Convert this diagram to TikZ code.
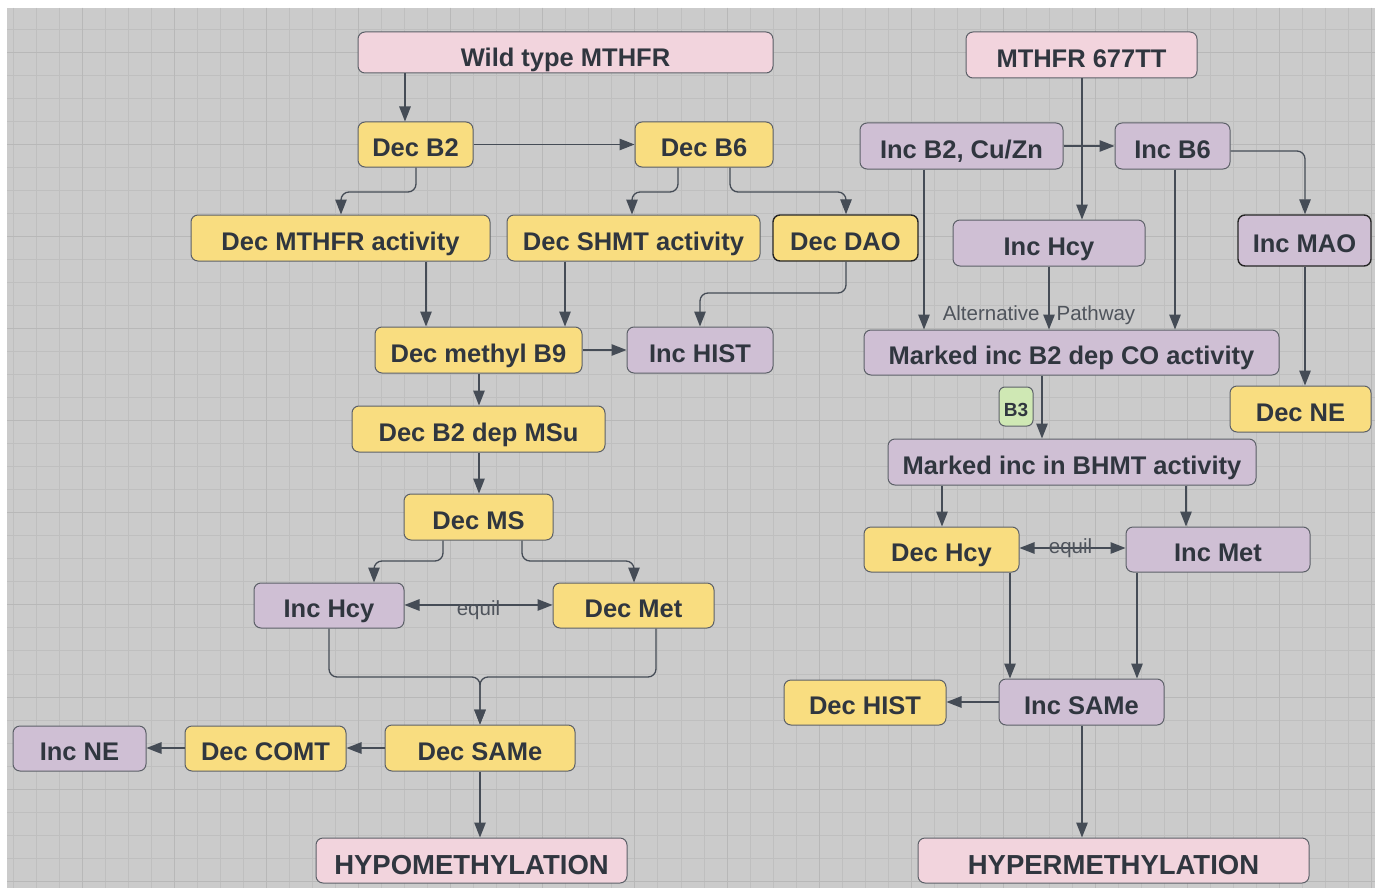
\documentclass[tikz,border=0pt]{standalone}
\usepackage{fontspec}
\setmainfont{Liberation Sans}
\usetikzlibrary{arrows.meta}

\definecolor{bg}{HTML}{CBCBCB}
\definecolor{gridln}{HTML}{BFBFBF}
\definecolor{gridmj}{HTML}{B8B8B8}
\definecolor{yel}{HTML}{F9DD80}
\definecolor{pnk}{HTML}{F2D4DD}
\definecolor{pur}{HTML}{CFBFD4}
\definecolor{grn}{HTML}{CFE8B4}
\definecolor{edgecol}{HTML}{5C6068}
\definecolor{ink}{HTML}{30363F}
\definecolor{wire}{HTML}{454C56}

% box from its corners: style, name, x1, y1, x2, y2, text
\newcommand{\flowbox}[7]{%
  \path ({(#3+#5)/2},{(#4+#6)/2}) node[#1, minimum width={(#5)-(#3)}, minimum height={(#6)-(#4)}] (#2) {#7};}

\tikzset{
  box/.style={draw=edgecol, line width=1pt, rounded corners=7pt, inner sep=0pt,
    text=ink, font=\bfseries\fontsize{25.5}{30}\selectfont,
    text height=24.5pt, text depth=0pt},
  ybox/.style={box, fill=yel},
  pbox/.style={box, fill=pur},
  kbox/.style={box, fill=pnk},
  obox/.style={box, fill=pnk, font=\bfseries\fontsize{27.5}{32}\selectfont,
    text height=27.5pt},
  gbox/.style={box, fill=grn, rounded corners=6pt, font=\bfseries\fontsize{19}{22}\selectfont,
    text height=20.5pt},
  strong/.style={draw=black!85, line width=1.4pt},
  arr/.style={draw=wire, line width=1.3pt, rounded corners=8pt,
    -{Triangle[length=15pt,width=11.5pt]}},
  biarr/.style={draw=wire, line width=1.3pt,
    {Triangle[length=15pt,width=11.5pt]}-{Triangle[length=15pt,width=11.5pt]}},
  lbl/.style={text=ink!85, font=\fontsize{20.5}{24}\selectfont, inner sep=0pt},
}

\begin{document}
\begin{tikzpicture}[x=1pt, y=-1pt]
\useasboundingbox (0,0) rectangle (1378,888);
\fill[white] (0,0) rectangle (1378,888);
\fill[bg] (7,8) rectangle (1375,888);

% background grid
\foreach \k in {0,...,59} {
  \pgfmathsetmacro\gx{13+23.03*\k}
  \draw[gridln, line width=0.7pt] (\gx,8) -- (\gx,888);
}
\foreach \k in {1,...,38} {
  \pgfmathsetmacro\gy{6+23.03*\k}
  \draw[gridln, line width=0.7pt] (7,\gy) -- (1375,\gy);
}
\foreach \k in {3,7,...,59} {
  \pgfmathsetmacro\gx{13+23.03*\k}
  \draw[gridmj, line width=0.8pt] (\gx,8) -- (\gx,888);
}
\foreach \k in {2,6,...,38} {
  \pgfmathsetmacro\gy{6+23.03*\k}
  \draw[gridmj, line width=0.8pt] (7,\gy) -- (1375,\gy);
}

% ---------- wild type branch ----------
\flowbox{kbox,text height=28.5pt}{wt}{358}{32}{773}{73}{Wild type MTHFR}
\flowbox{ybox}{db2}{358}{122}{473}{167}{Dec B2}
\flowbox{ybox}{db6}{635}{122}{773}{167}{Dec B6}
\flowbox{ybox}{dmthfr}{191}{215}{490}{261}{Dec MTHFR activity}
\flowbox{ybox}{dshmt}{507}{215}{760}{261}{Dec SHMT activity}
\flowbox{ybox,strong}{ddao}{773}{215}{918}{261}{Dec DAO}
\flowbox{ybox}{db9}{375}{327}{582}{373}{Dec methyl B9}
\flowbox{pbox}{ihist}{627}{327}{773}{373}{Inc HIST}
\flowbox{ybox}{dmsu}{352}{406}{605}{452}{Dec B2 dep MSu}
\flowbox{ybox}{dms}{404}{494}{553}{540}{Dec MS}
\flowbox{pbox}{ihcyL}{254}{583}{404}{628}{Inc Hcy}
\flowbox{ybox}{dmet}{553}{583}{714}{628}{Dec Met}
\flowbox{ybox}{dsame}{385}{725}{575}{771}{Dec SAMe}
\flowbox{ybox}{dcomt}{185}{726}{346}{771}{Dec COMT}
\flowbox{pbox}{ine}{13}{726}{146}{771}{Inc NE}
\flowbox{obox}{hypo}{316}{838}{627}{883}{HYPOMETHYLATION}

% ---------- 677TT branch ----------
\flowbox{kbox}{mt}{966}{32}{1197}{78}{MTHFR 677TT}
\flowbox{pbox}{ib2}{860}{123}{1063}{169}{Inc B2, Cu/Zn}
\flowbox{pbox}{ib6}{1115}{123}{1230}{169}{Inc B6}
\flowbox{pbox}{ihcyR}{953}{220}{1145}{266}{Inc Hcy}
\flowbox{pbox,strong}{imao}{1238}{215}{1371}{266}{Inc MAO}
\flowbox{pbox}{mco}{864}{330}{1279}{375}{Marked inc B2 dep CO activity}
\flowbox{ybox}{dne}{1230}{386}{1371}{432}{Dec NE}
\flowbox{gbox}{b3}{999}{387}{1033}{426}{B3}
\flowbox{pbox}{bhmt}{888}{439}{1256}{485}{Marked inc in BHMT activity}
\flowbox{ybox}{dhcy}{864}{527}{1019}{572}{Dec Hcy}
\flowbox{pbox}{imet}{1126}{527}{1310}{572}{Inc Met}
\flowbox{pbox}{isame}{999}{679}{1164}{725}{Inc SAMe}
\flowbox{ybox}{dhist}{784}{680}{946}{725}{Dec HIST}
\flowbox{obox}{hyper}{918}{838}{1309}{883}{HYPERMETHYLATION}

% ---------- connectors, wild type ----------
\draw[arr] (wt.south -| 405,0) -- (db2.north -| 405,0);
\draw[arr] (db2.east) -- (db6.west);
\draw[arr] (db2.south -| 416,0) -- (416,192) -- (341,192) -- (dmthfr.north -| 341,0);
\draw[arr] (db6.south -| 678,0) -- (678,192) -- (632,192) -- (dshmt.north -| 632,0);
\draw[arr] (db6.south -| 730,0) -- (730,192) -- (846,192) -- (ddao.north -| 846,0);
\draw[arr] (dmthfr.south -| 426,0) -- (db9.north -| 426,0);
\draw[arr] (dshmt.south -| 565,0) -- (db9.north -| 565,0);
\draw[arr] (ddao.south -| 846,0) -- (846,293) -- (700,293) -- (ihist.north -| 700,0);
\draw[arr] (db9.east) -- (ihist.west);
\draw[arr] (db9.south -| 479,0) -- (dmsu.north -| 479,0);
\draw[arr] (dmsu.south -| 479,0) -- (dms.north -| 479,0);
\draw[arr] (dms.south -| 443,0) -- (443,561) -- (374,561) -- (ihcyL.north -| 374,0);
\draw[arr] (dms.south -| 522,0) -- (522,561) -- (634,561) -- (dmet.north -| 634,0);
\draw[biarr] (ihcyL.east |- 0,605) -- (dmet.west |- 0,605)
  node[lbl, midway, yshift=-5pt] (eqL) {equil};
\draw[arr] (ihcyL.south -| 329,0) -- (329,677) -- (480,677) -- (dsame.north -| 480,0);
\draw[arr] (dmet.south -| 656,0) -- (656,677) -- (480,677) -- (dsame.north -| 480,0);
\draw[arr] (dsame.west |- 0,748) -- (dcomt.east |- 0,748);
\draw[arr] (dcomt.west |- 0,748) -- (ine.east |- 0,748);
\draw[arr] (dsame.south -| 480,0) -- (hypo.north -| 480,0);

% ---------- connectors, 677TT ----------
\draw[arr] (mt.south -| 1082,0) -- (ihcyR.north -| 1082,0);
\draw[arr] (ib2.east |- 0,146) -- (ib6.west |- 0,146);
\draw[arr] (ib6.east |- 0,151) -- (1305,151) -- (imao.north -| 1305,0);
\draw[arr] (ib2.south -| 924,0) -- (mco.north -| 924,0);
\draw[arr] (ihcyR.south -| 1049,0) -- (mco.north -| 1049,0);
\draw[arr] (ib6.south -| 1175,0) -- (mco.north -| 1175,0);
\node[lbl] (alt) at (1039,315) {Alternative\hspace{17pt}Pathway};
\draw[arr] (imao.south -| 1305,0) -- (dne.north -| 1305,0);
\draw[arr] (mco.south -| 1042,0) -- (bhmt.north -| 1042,0);
\draw[arr] (bhmt.south -| 942,0) -- (dhcy.north -| 942,0);
\draw[arr] (bhmt.south -| 1186,0) -- (imet.north -| 1186,0);
\draw[biarr] (dhcy.east |- 0,548) -- (imet.west |- 0,548)
  node[lbl, midway, xshift=-2pt] (eqR) {equil};
\draw[arr] (dhcy.south -| 1010,0) -- (isame.north -| 1010,0);
\draw[arr] (imet.south -| 1137,0) -- (isame.north -| 1137,0);
\draw[arr] (isame.west |- 0,702) -- (dhist.east |- 0,702);
\draw[arr] (isame.south -| 1082,0) -- (hyper.north -| 1082,0);
\end{tikzpicture}
\end{document}
